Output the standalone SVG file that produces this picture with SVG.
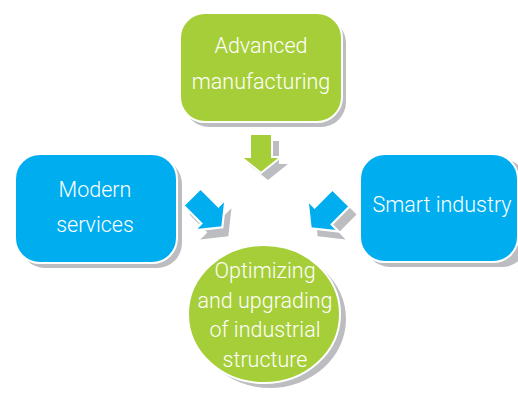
<svg xmlns="http://www.w3.org/2000/svg" width="518" height="395" viewBox="0 0 518 395">
  <defs>
    <style>
      .green { fill: #A6CE39; stroke: #ffffff; stroke-width: 2; }
      .blue { fill: #00AEEF; stroke: #ffffff; stroke-width: 2; }
      .shadow { fill: #BCBDC0; }
      .label { fill: #ffffff; font-family: Roboto, "Liberation Sans", Arial, sans-serif; font-size: 21.5px; font-weight: 300; text-anchor: middle; }
    </style>
    <path id="arrow" d="M0,-11 L23,-11 L23,-20 L39,0 L23,20 L23,11 L0,11 Z"/>
  </defs>
  <rect width="518" height="395" fill="#ffffff"/>

  <g id="advanced-manufacturing">
    <rect class="shadow" x="184" y="18" width="162" height="109" rx="25"/>
    <rect class="green" x="180" y="13" width="162" height="109" rx="25"/>
    <text class="label" x="261" y="53">Advanced</text>
    <text class="label" x="261" y="89">manufacturing</text>
  </g>

  <g id="modern-services">
    <rect class="shadow" x="20" y="159" width="162" height="109" rx="25"/>
    <rect class="blue" x="15" y="154" width="162" height="109" rx="25"/>
    <text class="label" x="95" y="197">Modern</text>
    <text class="label" x="95" y="232">services</text>
  </g>

  <g id="smart-industry">
    <rect class="shadow" x="365" y="159" width="162" height="108" rx="25"/>
    <rect class="blue" x="360" y="154" width="158" height="108" rx="25"/>
    <text class="label" x="442" y="212">Smart industry</text>
  </g>

  <g id="optimizing">
    <ellipse class="shadow" cx="270" cy="319" rx="76" ry="69"/>
    <ellipse class="green" cx="264" cy="314" rx="76" ry="69"/>
    <text class="label" x="265" y="278">Optimizing</text>
    <text class="label" x="265" y="308">and upgrading</text>
    <text class="label" x="265" y="337">of industrial</text>
    <text class="label" x="265" y="367">structure</text>
  </g>

  <g id="connectors">
    <use href="#arrow" class="shadow" transform="translate(268,141) rotate(90)"/>
    <use href="#arrow" class="green" transform="translate(261,134) rotate(90)"/>
    <use href="#arrow" class="shadow" transform="translate(198,206) rotate(45) scale(1.1)"/>
    <use href="#arrow" class="blue" transform="translate(192,197) rotate(45) scale(1.1)"/>
    <use href="#arrow" class="shadow" transform="translate(348,206) rotate(135) scale(1.1)"/>
    <use href="#arrow" class="blue" transform="translate(341,198) rotate(135) scale(1.1)"/>
  </g>
</svg>
